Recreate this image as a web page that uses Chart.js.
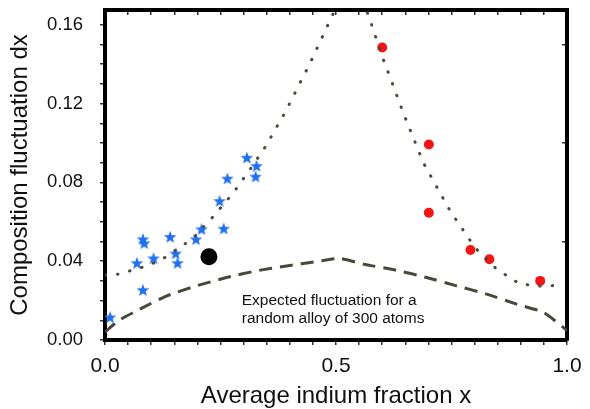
<!DOCTYPE html>
<html>
<head>
<meta charset="utf-8">
<script src="https://cdn.jsdelivr.net/npm/chart.js@4/dist/chart.umd.min.js"></script>
<style>
  html, body { margin: 0; padding: 0; background: #fff; }
  #wrap { width: 590px; height: 409px; }
</style>
</head>
<body>
<div id="wrap"><canvas id="c" width="590" height="409"></canvas></div>
<script>
// Measured points (blue stars)
const starX = [0.011, 0.082, 0.082, 0.085, 0.069, 0.105, 0.141, 0.153, 0.157, 0.197, 0.209, 0.257, 0.248, 0.265, 0.307, 0.328, 0.326];
const starY = [0.0115, 0.0253, 0.0511, 0.0491, 0.0390, 0.0414, 0.0523, 0.0439, 0.0390, 0.0511, 0.0562, 0.0565, 0.0705, 0.0819, 0.0925, 0.0883, 0.0829];

// Red points
const redX = [0.600, 0.701, 0.701, 0.791, 0.832, 0.942];
const redY = [0.1485, 0.0992, 0.0646, 0.0457, 0.0410, 0.0300];

// Single black point
const blackX = [0.225];
const blackY = [0.0422];

// Dotted guide curve
const dotX = [0.0, 0.029, 0.079, 0.108, 0.134, 0.159, 0.188, 0.234, 0.278, 0.314, 0.348, 0.392, 0.444, 0.492, 0.537, 0.574, 0.600, 0.648, 0.689, 0.747, 0.801, 0.848, 0.898, 0.949, 0.978];
const dotY = [0.0330, 0.0334, 0.0368, 0.0393, 0.0424, 0.0466, 0.0511, 0.0626, 0.0748, 0.0866, 0.0984, 0.1165, 0.1406, 0.1647, 0.186, 0.1622, 0.1439, 0.1139, 0.0900, 0.0655, 0.0469, 0.0359, 0.0284, 0.0272, 0.0278];

// Dashed curve: expected random-alloy fluctuation
const dashX = [0.0, 0.029, 0.083, 0.134, 0.198, 0.263, 0.328, 0.393, 0.458, 0.509, 0.559, 0.631, 0.696, 0.761, 0.826, 0.891, 0.949, 0.992, 1.0];
const dashY = [0.0040, 0.0098, 0.0166, 0.0224, 0.0275, 0.0317, 0.0351, 0.0376, 0.0398, 0.0414, 0.0385, 0.0354, 0.0317, 0.0275, 0.0233, 0.0182, 0.0140, 0.0064, 0.0047];

// Axis ticks / labels
const xTickValues = [0, 0.5, 1];
const xTickLabels = ['0.0', '0.5', '1.0'];
const yTickValues = [0, 0.04, 0.08, 0.12, 0.16];
const yTickLabels = ['0.00', '0.04', '0.08', '0.12', '0.16'];

// Annotation
const noteLines = ['Expected fluctuation for a', 'random alloy of 300 atoms'];
const noteX = 0.296;
const noteY = [0.0199, 0.0110];

const pts = (xs, ys) => xs.map((x, i) => ({ x: x, y: ys[i] }));

function starImage(color) {
  const c = document.createElement('canvas');
  c.width = 14; c.height = 14;
  const g = c.getContext('2d');
  g.fillStyle = color;
  g.beginPath();
  for (let i = 0; i < 10; i++) {
    const r = (i % 2 === 0) ? 6.6 : 2.8;
    const a = -Math.PI / 2 + i * Math.PI / 5;
    const px = 7 + r * Math.cos(a), py = 7.4 + r * Math.sin(a);
    if (i === 0) g.moveTo(px, py); else g.lineTo(px, py);
  }
  g.closePath();
  g.fill();
  return c;
}

function labelFor(values, labels, v) {
  for (let i = 0; i < values.length; i++) if (Math.abs(values[i] - v) < 1e-6) return labels[i];
  return '';
}

// box sizes fixed by hand so the plot frame lands where the original has it
function fixBox(size, key) {
  return s => {
    s[key] = size;
    s.paddingTop = 0; s.paddingBottom = 0; s.paddingLeft = 0; s.paddingRight = 0;
  };
}

const noteText = {
  id: 'noteText',
  afterDatasetsDraw(chart) {
    const ctx = chart.ctx, xs = chart.scales.x, ys = chart.scales.y;
    ctx.save();
    ctx.font = '15.5px "Liberation Sans", Arial, sans-serif';
    ctx.fillStyle = '#111';
    ctx.textAlign = 'left';
    ctx.textBaseline = 'middle';
    noteLines.forEach((t, i) => ctx.fillText(t, xs.getPixelForValue(noteX), ys.getPixelForValue(noteY[i])));
    ctx.restore();
  }
};

const FONT = '"Liberation Sans", Arial, sans-serif';
const YMAX = 0.1675;
const tickColor = '#333';

new Chart(document.getElementById('c'), {
  type: 'scatter',
  data: {
    datasets: [
      { type: 'line', data: pts(dashX, dashY), borderColor: '#4a463a', borderWidth: 3, borderDash: [13, 8],
        pointRadius: 0, tension: 0.2, fill: false },
      { type: 'line', data: pts(dotX, dotY), borderColor: '#4d4a3a', borderWidth: 3, borderDash: [0.5, 12],
        borderCapStyle: 'round', pointRadius: 0, tension: 0, fill: false },
      { data: pts(starX, starY), pointStyle: starImage('#1f6ff0'), pointRadius: 6 },
      { data: pts(redX, redY), pointStyle: 'circle', pointRadius: 5, backgroundColor: '#f41414', borderColor: '#f41414', borderWidth: 0 },
      { data: pts(blackX, blackY), pointStyle: 'circle', pointRadius: 8.5, backgroundColor: '#000', borderColor: '#000', borderWidth: 0 }
    ]
  },
  options: {
    responsive: false,
    animation: false,
    events: [],
    layout: { padding: 0 },
    plugins: { legend: { display: false }, tooltip: { enabled: false } },
    scales: {
      x: {
        type: 'linear', position: 'bottom', min: 0, max: 1,
        afterFit: fixBox(69, 'height'),
        border: { display: true, color: '#000', width: 4 },
        grid: { drawOnChartArea: false, drawTicks: true, tickLength: 5, color: tickColor, lineWidth: 1.5 },
        ticks: { stepSize: 0.05, autoSkip: false, maxRotation: 0, padding: 9, color: '#111',
                 font: { family: FONT, size: 21 },
                 callback: v => labelFor(xTickValues, xTickLabels, v) },
        title: { display: true, text: 'Average indium fraction x', color: '#111',
                 font: { family: FONT, size: 24 }, padding: { top: 0, bottom: -2 } }
      },
      y: {
        type: 'linear', position: 'left', min: 0, max: YMAX,
        afterFit: fixBox(105, 'width'),
        border: { display: true, color: '#000', width: 4 },
        grid: { drawOnChartArea: false, drawTicks: true, tickLength: 5, color: tickColor, lineWidth: 1.5 },
        ticks: { stepSize: 0.01, autoSkip: false, includeBounds: false, padding: 17, color: '#111',
                 font: { family: FONT, size: 18.5 },
                 callback: v => labelFor(yTickValues, yTickLabels, v) },
        title: { display: true, text: 'Composition fluctuation dx', color: '#111',
                 font: { family: FONT, size: 24 }, padding: { top: 6, bottom: 0 } }
      },
      x2: {
        type: 'linear', position: 'top', min: 0, max: 1,
        afterFit: fixBox(10, 'height'),
        border: { display: true, color: '#000', width: 4 },
        grid: { drawOnChartArea: false, drawTicks: true, tickLength: -5, color: tickColor, lineWidth: 1.5 },
        ticks: { stepSize: 0.05, autoSkip: false, display: false }
      },
      y2: {
        type: 'linear', position: 'right', min: 0, max: YMAX,
        afterFit: fixBox(23, 'width'),
        border: { display: true, color: '#000', width: 4 },
        grid: { drawOnChartArea: false, drawTicks: true, tickLength: -5, color: tickColor, lineWidth: 1.5 },
        ticks: { stepSize: 0.05, autoSkip: false, includeBounds: false, display: false }
      }
    }
  },
  plugins: [noteText]
});
</script>
</body>
</html>
